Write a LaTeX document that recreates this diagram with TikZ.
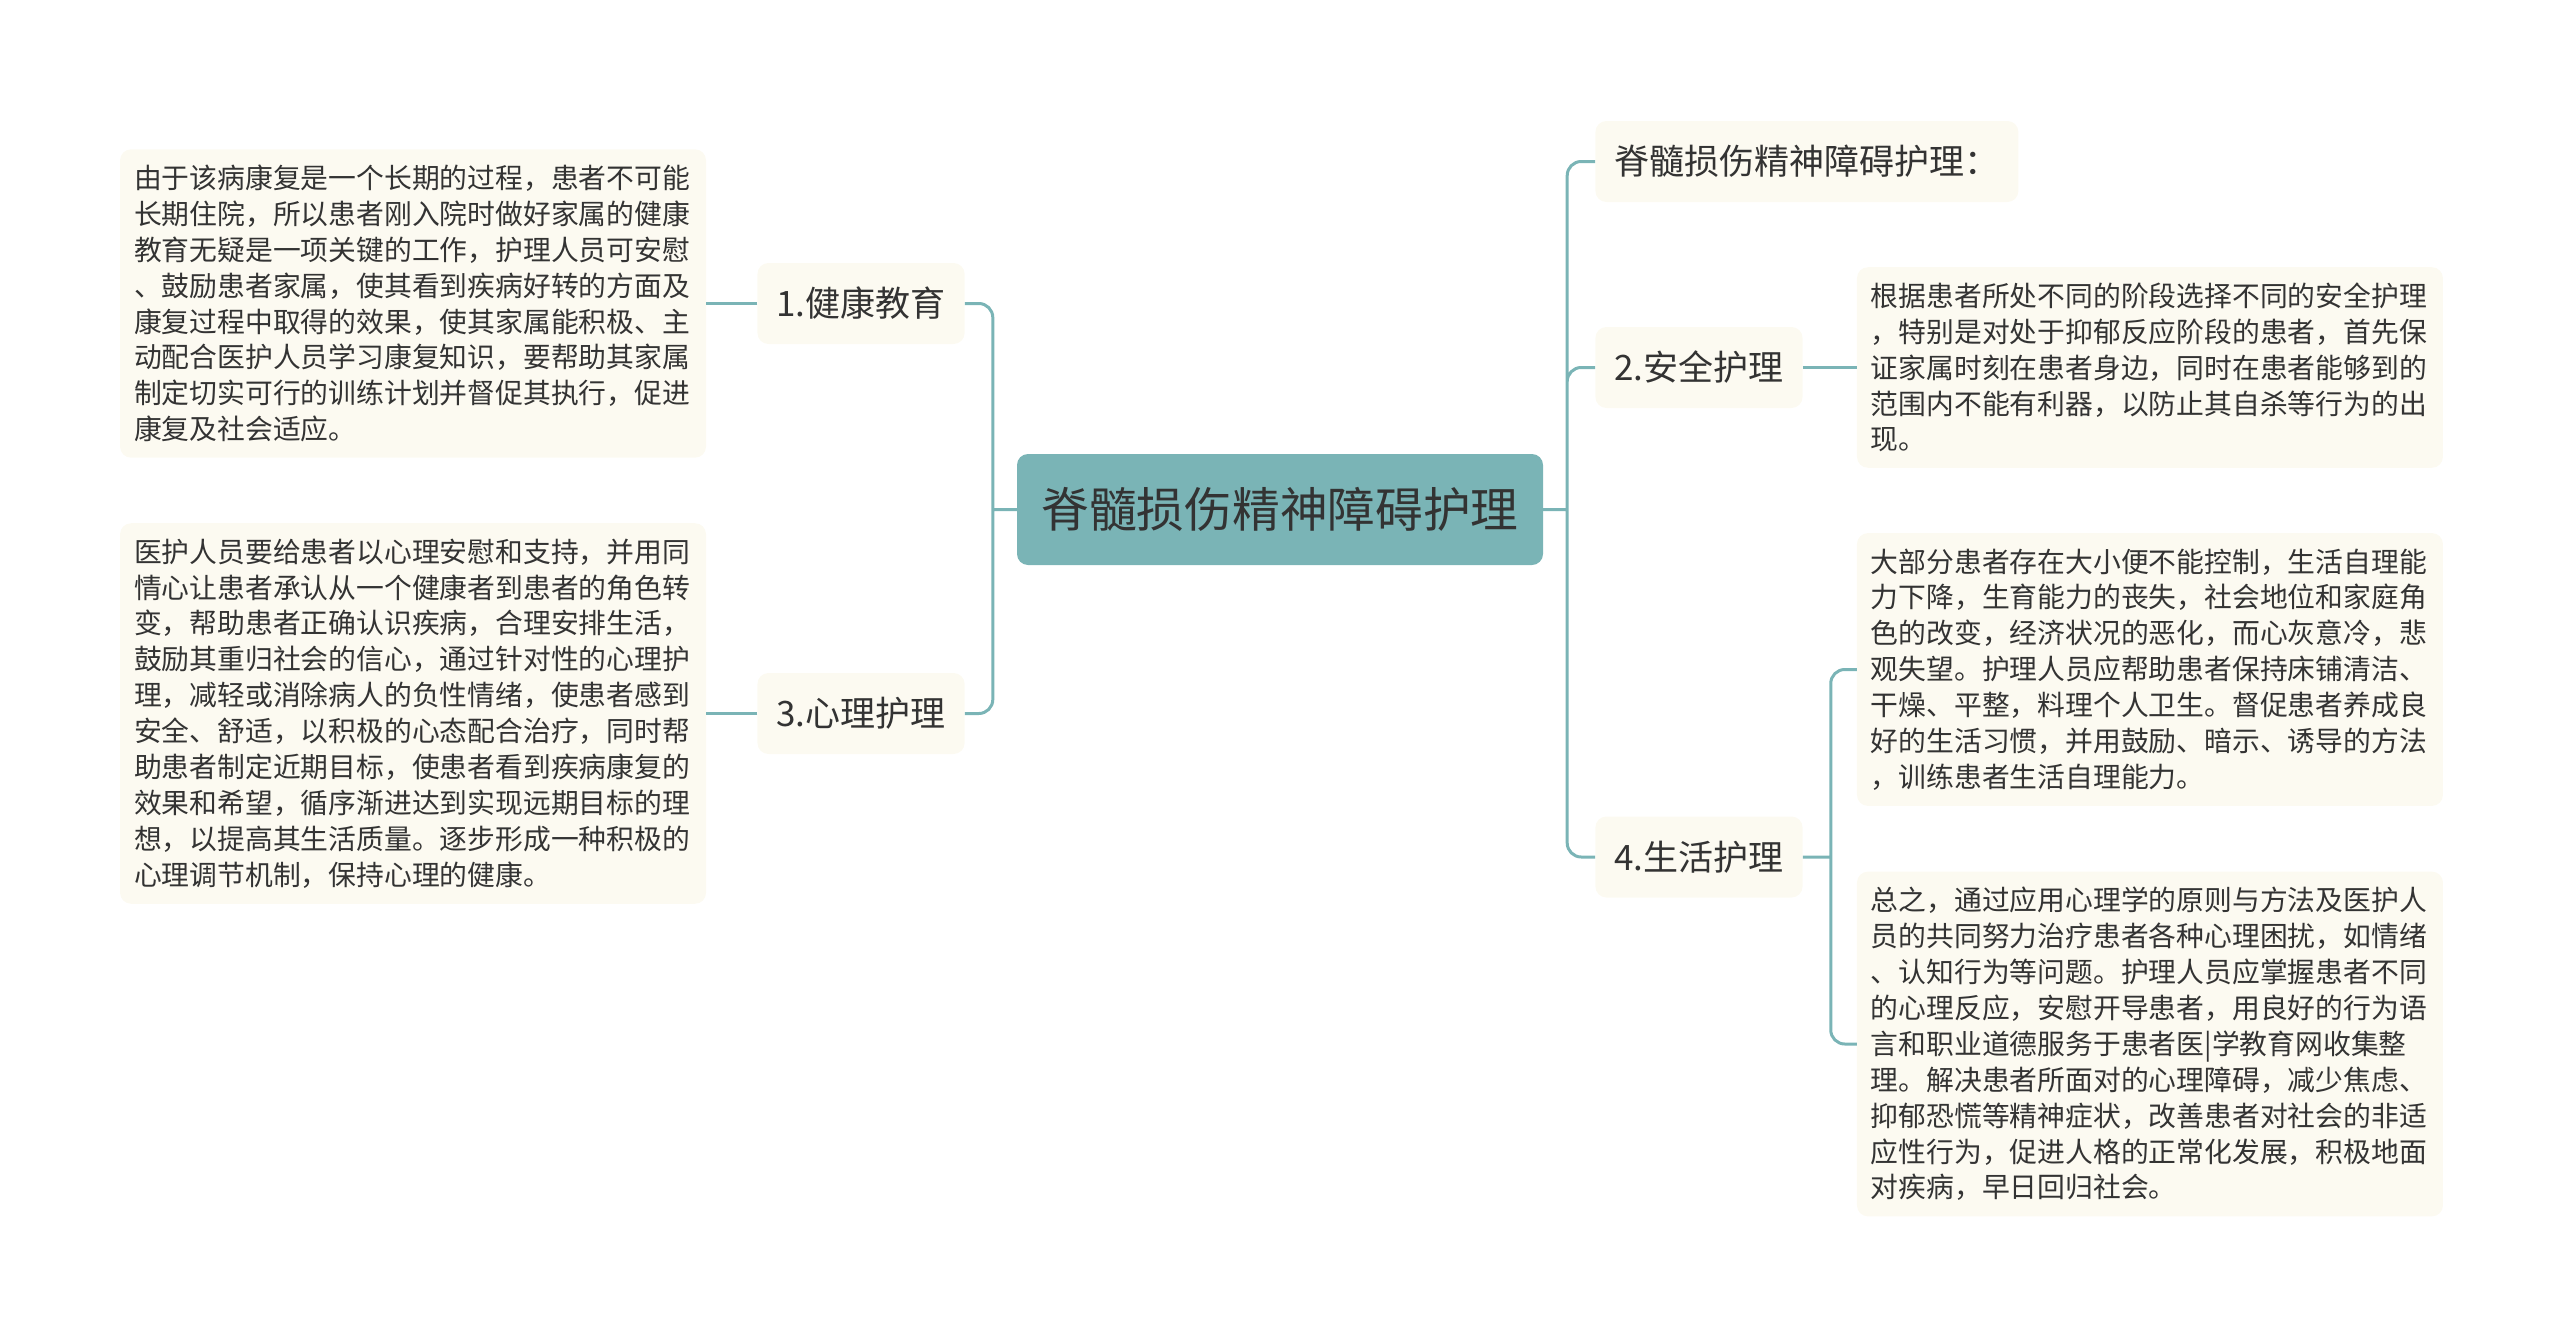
\documentclass[tikz,border=0pt]{standalone}
\usepackage{fontspec}
\setmainfont{Noto Sans CJK SC}
\usetikzlibrary{positioning}
\definecolor{tealmain}{HTML}{7AB4B6}
\definecolor{cream}{HTML}{FCFAF1}
\definecolor{ink}{HTML}{333333}
\begin{document}
\begin{tikzpicture}[x=1pt, y=-1pt, text=ink, root/.style={rectangle, rounded corners=11pt, fill=tealmain, minimum width=526pt, minimum height=111pt, inner xsep=24pt, font=\fontsize{47.7pt}{52pt}\selectfont}, branch/.style={rectangle, rounded corners=11pt, fill=cream, minimum height=81pt, inner xsep=19pt, font=\fontsize{35pt}{40pt}\selectfont}, leaf/.style={rectangle, rounded corners=11pt, fill=cream, text width=558pt, inner xsep=14pt, inner ysep=15.5pt, align=left, font=\fontsize{27.8pt}{35.9pt}\selectfont}, link/.style={draw=tealmain, line width=3pt, rounded corners=14pt}]
        \useasboundingbox (0,0) rectangle (2560,1338);

        \node[root] (0) at (1280,509.5) {脊髓损伤精神障碍护理};
        \node[branch] (1) [left=52pt of 0, yshift=206pt] {1.健康教育};
        \node[branch] (3) [left=52pt of 0, yshift=-204pt] {3.心理护理};
        \node[branch] (top) [right=52pt of 0, yshift=348pt] {脊髓损伤精神障碍护理：};
        \node[branch] (2) [right=52pt of 0, yshift=142pt] {2.安全护理};
        \node[branch] (4) [right=52pt of 0, yshift=-347.5pt] {4.生活护理};

        \node[leaf] (1a) [left=51pt of 1] {由于该病康复是一个长期的过程，患者不可能\\长期住院，所以患者刚入院时做好家属的健康\\教育无疑是一项关键的工作，护理人员可安慰\\、鼓励患者家属，使其看到疾病好转的方面及\\康复过程中取得的效果，使其家属能积极、主\\动配合医护人员学习康复知识，要帮助其家属\\制定切实可行的训练计划并督促其执行，促进\\康复及社会适应。};
        \node[leaf] (3a) [left=51pt of 3] {医护人员要给患者以心理安慰和支持，并用同\\情心让患者承认从一个健康者到患者的角色转\\变，帮助患者正确认识疾病，合理安排生活，\\鼓励其重归社会的信心，通过针对性的心理护\\理，减轻或消除病人的负性情绪，使患者感到\\安全、舒适，以积极的心态配合治疗，同时帮\\助患者制定近期目标，使患者看到疾病康复的\\效果和希望，循序渐进达到实现远期目标的理\\想，以提高其生活质量。逐步形成一种积极的\\心理调节机制，保持心理的健康。};
        \node[leaf] (2a) [right=54pt of 2] {根据患者所处不同的阶段选择不同的安全护理\\，特别是对处于抑郁反应阶段的患者，首先保\\证家属时刻在患者身边，同时在患者能够到的\\范围内不能有利器，以防止其自杀等行为的出\\现。};
        \node[leaf] (4a) [right=54pt of 4, yshift=187.5pt] {大部分患者存在大小便不能控制，生活自理能\\力下降，生育能力的丧失，社会地位和家庭角\\色的改变，经济状况的恶化，而心灰意冷，悲\\观失望。护理人员应帮助患者保持床铺清洁、\\干燥、平整，料理个人卫生。督促患者养成良\\好的生活习惯，并用鼓励、暗示、诱导的方法\\，训练患者生活自理能力。};
        \node[leaf] (4b) [right=54pt of 4, yshift=-187pt] {总之，通过应用心理学的原则与方法及医护人\\员的共同努力治疗患者各种心理困扰，如情绪\\、认知行为等问题。护理人员应掌握患者不同\\的心理反应，安慰开导患者，用良好的行为语\\言和职业道德服务于患者医|学教育网收集整\\理。解决患者所面对的心理障碍，减少焦虑、\\抑郁恐慌等精神症状，改善患者对社会的非适\\应性行为，促进人格的正常化发展，积极地面\\对疾病，早日回归社会。};

        \coordinate[left=24pt of 0] (lj);
        \coordinate[right=24pt of 0] (rj);
        \coordinate[right=28pt of 4] (sj);

        \draw[link] (0) -- (lj) (lj) |- (1) (lj) |- (3);
        \draw[link] (0) -- (rj) (rj) |- (top) (rj) |- (2) (rj) |- (4);
        \draw[link] (1) -- (1a) (3) -- (3a) (2) -- (2a);
        \draw[link] (4) -- (sj) (sj) |- (4a) (sj) |- (4b);
    \end{tikzpicture}
\end{document}
